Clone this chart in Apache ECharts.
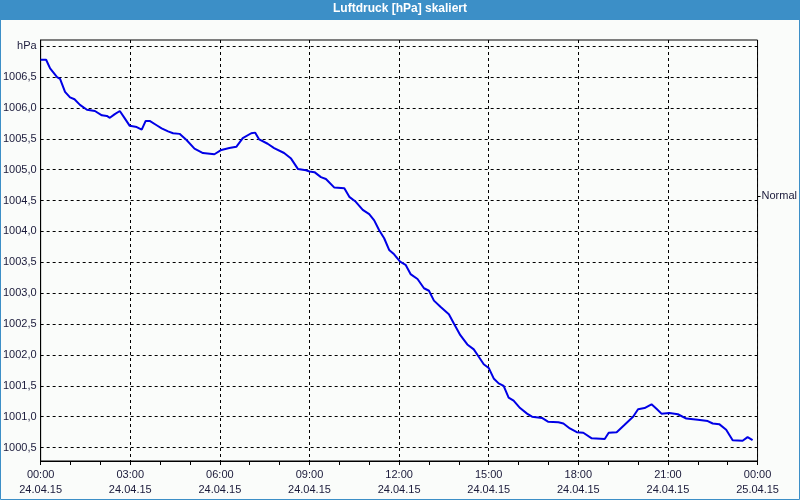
<!DOCTYPE html>
<html>
<head>
<meta charset="utf-8">
<script src="https://cdn.jsdelivr.net/npm/echarts@6/dist/echarts.min.js"></script>
<style>
html,body{margin:0;padding:0;background:#fafcfa;}
#c{width:800px;height:500px;}
</style>
</head>
<body>
<div id="c"></div>
<script>
// ---- data ----
const titleText = 'Luftdruck [hPa] skaliert';
const times = ['00:00','00:11','00:19','00:33','00:39','00:49','00:59','01:08','01:19','01:33','01:49','02:03','02:13','02:19','02:29','02:39','02:49','02:59','03:13','03:23','03:31','03:39','03:53','04:03','04:16','04:26','04:39','04:53','05:09','05:26','05:49','06:03','06:19','06:33','06:46','07:03','07:11','07:19','07:36','07:49','08:09','08:23','08:37','08:53','09:00','09:10','09:23','09:33','09:50','10:10','10:20','10:33','10:47','11:00','11:10','11:20','11:30','11:40','11:50','12:02','12:13','12:23','12:37','12:50','13:00','13:10','13:23','13:40','13:50','14:03','14:17','14:30','14:40','14:50','15:00','15:10','15:20','15:30','15:40','15:50','16:03','16:17','16:27','16:47','16:59','17:20','17:30','17:43','17:57','18:10','18:27','18:53','19:01','19:17','19:33','19:50','20:00','20:13','20:27','20:37','20:47','21:03','21:20','21:37','22:00','22:20','22:30','22:43','22:57','23:10','23:30','23:40','23:50'];
const pressure = [1006.78,1006.78,1006.64,1006.50,1006.47,1006.26,1006.17,1006.14,1006.05,1005.97,1005.95,1005.88,1005.87,1005.84,1005.90,1005.95,1005.83,1005.71,1005.69,1005.65,1005.79,1005.79,1005.72,1005.67,1005.62,1005.59,1005.58,1005.48,1005.34,1005.27,1005.25,1005.32,1005.35,1005.37,1005.51,1005.59,1005.60,1005.49,1005.42,1005.35,1005.27,1005.18,1005.01,1004.99,1004.97,1004.96,1004.88,1004.85,1004.71,1004.70,1004.56,1004.48,1004.35,1004.28,1004.18,1004.02,1003.89,1003.70,1003.63,1003.51,1003.46,1003.31,1003.23,1003.08,1003.04,1002.88,1002.78,1002.66,1002.51,1002.32,1002.17,1002.09,1001.97,1001.85,1001.79,1001.62,1001.54,1001.50,1001.31,1001.26,1001.14,1001.05,1001.00,1000.98,1000.92,1000.91,1000.89,1000.81,1000.75,1000.74,1000.65,1000.64,1000.74,1000.75,1000.87,1001.00,1001.12,1001.14,1001.20,1001.13,1001.05,1001.06,1001.04,1000.97,1000.95,1000.93,1000.89,1000.88,1000.79,1000.62,1000.61,1000.67,1000.62];
const yTicks = [1000.5,1001.0,1001.5,1002.0,1002.5,1003.0,1003.5,1004.0,1004.5,1005.0,1005.5,1006.0,1006.5,1007.0];
const yUnitLabel = 'hPa';
const xTickMinutes = [0,180,360,540,720,900,1080,1260,1440];
const xTickTimes = ['00:00','03:00','06:00','09:00','12:00','15:00','18:00','21:00','00:00'];
const xTickDates = ['24.04.15','24.04.15','24.04.15','24.04.15','24.04.15','24.04.15','24.04.15','24.04.15','25.04.15'];
const normalLevel = 1004.57;
const normalLabel = 'Normal';

// ---- build ----
function toMin(t){const p=t.split(':');return (+p[0])*60+(+p[1]);}
const seriesData = times.map((t,i)=>[toMin(t), pressure[i]]);
const textColor = '#1a1a3a';
const font = 'Liberation Sans';
const blue = '#3c8fc7';

const chart = echarts.init(document.getElementById('c'), null, {renderer:'canvas'});
chart.setOption({
  backgroundColor:'#fafcfa',
  animation:false,
  title:{
    text:titleText, left:'center', top:3, padding:0,
    textStyle:{color:'#ffffff', fontFamily:font, fontSize:12, fontWeight:'bold'}
  },
  graphic:[
    {type:'rect', z:-1, shape:{x:0,y:0,width:800,height:20}, style:{fill:blue}},
    {type:'rect', z:-1, shape:{x:0.5,y:0.5,width:799,height:499}, style:{fill:null, stroke:blue, lineWidth:1}}
  ],
  grid:{left:40, top:40, right:40, bottom:39, show:true, borderColor:'#000', borderWidth:1, backgroundColor:'transparent'},
  xAxis:{
    type:'value', min:0, max:1440, interval:180,
    axisLine:{show:true, lineStyle:{color:'#000', width:1}},
    axisTick:{show:true, length:4, lineStyle:{color:'#000'}},
    minorTick:{show:true, splitNumber:3, length:4, lineStyle:{color:'#000'}},
    splitLine:{show:true, lineStyle:{color:'#000', type:[3,3], width:1}},
    axisLabel:{
      margin:6, color:textColor, fontFamily:font, fontSize:11, lineHeight:15,
      formatter:function(v){const i=xTickMinutes.indexOf(v);return i<0?'':xTickTimes[i]+'\n'+xTickDates[i];},
      showMinLabel:true, showMaxLabel:true
    }
  },
  yAxis:[{
    type:'value', min:1000.283, max:1007.10,
    axisLine:{show:true, lineStyle:{color:'#000', width:1}},
    axisTick:{show:false, customValues:yTicks},
    splitLine:{show:true, lineStyle:{color:'#000', type:[3,3], width:1}},
    axisLabel:{
      customValues:yTicks, margin:4, color:textColor, fontFamily:font, fontSize:11,
      formatter:function(v){ if(Math.abs(v-1007)<1e-6) return yUnitLabel; return v.toFixed(1).replace('.',','); }
    }
  },{
    type:'value', position:'right', min:1000.283, max:1007.10,
    axisLine:{show:false},
    axisTick:{show:true, length:3, customValues:[normalLevel], lineStyle:{color:'#000'}},
    splitLine:{show:false},
    axisLabel:{customValues:[normalLevel], margin:4, color:textColor, fontFamily:font, fontSize:11,
      formatter:function(){return normalLabel;}}
  }],
  series:[{
    type:'line', data:seriesData, showSymbol:false, symbol:'none',
    lineStyle:{color:'#0000e6', width:2}, itemStyle:{color:'#0000e6'},
    clip:true
  }]
});
</script>
</body>
</html>
